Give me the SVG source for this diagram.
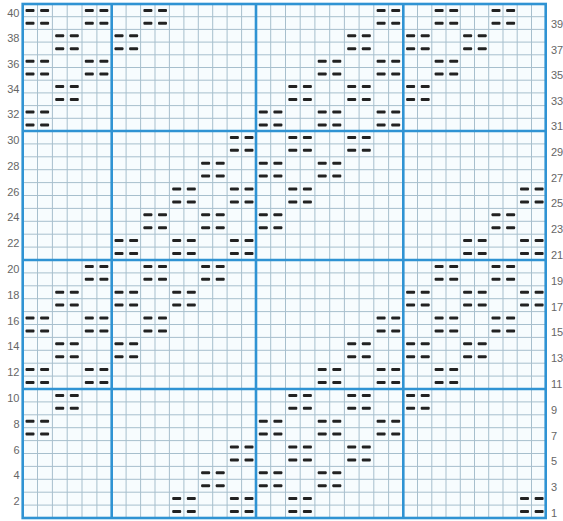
<svg xmlns="http://www.w3.org/2000/svg" xmlns:xlink="http://www.w3.org/1999/xlink" width="563" height="521" viewBox="0 0 563 521">
<style>
.minor{stroke:#a7bfcd;stroke-width:1;fill:none}
.major{stroke:#2f93d3;stroke-width:2.6;fill:none}
.lab{font-family:"Liberation Sans",Arial,sans-serif;font-size:11px;fill:#666}
.l{text-anchor:end}
.r{text-anchor:start}
.blk rect{fill:#222}
</style>
<defs>
<g id="b" class="blk">
<rect x="2.8" y="4.9" width="9" height="3" rx="1"/>
<rect x="17.4" y="4.9" width="9" height="3" rx="1"/>
<rect x="2.8" y="17.8" width="9" height="3" rx="1"/>
<rect x="17.4" y="17.8" width="9" height="3" rx="1"/>
</g>
</defs>
<rect width="563" height="521" fill="#ffffff"/>
<rect x="22.7" y="4" width="523" height="514" fill="#f7fcfe"/>
<g id="grid">
<path class="minor" d="M37.5 4V518M52.4 4V518M67.2 4V518M82 4V518M96.9 4V518M126.1 4V518M140.6 4V518M155 4V518M169.4 4V518M183.9 4V518M198.3 4V518M212.7 4V518M227.1 4V518M241.6 4V518M270.7 4V518M285.5 4V518M300.2 4V518M314.9 4V518M329.7 4V518M344.4 4V518M359.1 4V518M373.8 4V518M388.6 4V518M417.5 4V518M431.8 4V518M446 4V518M460.3 4V518M474.5 4V518M488.7 4V518M503 4V518M517.2 4V518M531.5 4V518"/>
<path class="minor" d="M22.7 16.7H545.7M22.7 29.4H545.7M22.7 42.1H545.7M22.7 54.8H545.7M22.7 67.5H545.7M22.7 80.2H545.7M22.7 92.9H545.7M22.7 105.6H545.7M22.7 118.3H545.7M22.7 143.9H545.7M22.7 156.8H545.7M22.7 169.7H545.7M22.7 182.6H545.7M22.7 195.5H545.7M22.7 208.4H545.7M22.7 221.3H545.7M22.7 234.2H545.7M22.7 247.1H545.7M22.7 272.9H545.7M22.7 285.8H545.7M22.7 298.7H545.7M22.7 311.6H545.7M22.7 324.5H545.7M22.7 337.4H545.7M22.7 350.3H545.7M22.7 363.2H545.7M22.7 376.1H545.7M22.7 401.9H545.7M22.7 414.8H545.7M22.7 427.7H545.7M22.7 440.6H545.7M22.7 453.5H545.7M22.7 466.4H545.7M22.7 479.3H545.7M22.7 492.2H545.7M22.7 505.1H545.7"/>
<path class="major" d="M111.7 4V518M256 4V518M403.3 4V518M22.7 131H545.7M22.7 260H545.7M22.7 389H545.7"/>
<rect class="major" x="22.7" y="4" width="523" height="514" stroke-width="2"/>
</g>
<g id="stitches">
<!-- R0 y=4 -->
<use xlink:href="#b" x="22.7" y="4"/><use xlink:href="#b" x="82" y="4"/><use xlink:href="#b" x="140.6" y="4"/><use xlink:href="#b" x="373.8" y="4"/><use xlink:href="#b" x="431.8" y="4"/><use xlink:href="#b" x="488.7" y="4"/>
<!-- R1 y=29.4 -->
<use xlink:href="#b" x="52.4" y="29.4"/><use xlink:href="#b" x="111.7" y="29.4"/><use xlink:href="#b" x="344.4" y="29.4"/><use xlink:href="#b" x="403.3" y="29.4"/><use xlink:href="#b" x="460.3" y="29.4"/>
<!-- R2 y=54.8 -->
<use xlink:href="#b" x="22.7" y="54.8"/><use xlink:href="#b" x="82" y="54.8"/><use xlink:href="#b" x="314.9" y="54.8"/><use xlink:href="#b" x="373.8" y="54.8"/><use xlink:href="#b" x="431.8" y="54.8"/>
<!-- R3 y=80.2 -->
<use xlink:href="#b" x="52.4" y="80.2"/><use xlink:href="#b" x="285.5" y="80.2"/><use xlink:href="#b" x="344.4" y="80.2"/><use xlink:href="#b" x="403.3" y="80.2"/>
<!-- R4 y=105.6 -->
<use xlink:href="#b" x="22.7" y="105.6"/><use xlink:href="#b" x="256" y="105.6"/><use xlink:href="#b" x="314.9" y="105.6"/><use xlink:href="#b" x="373.8" y="105.6"/>
<!-- R5 y=131 -->
<use xlink:href="#b" x="227.1" y="131"/><use xlink:href="#b" x="285.5" y="131"/><use xlink:href="#b" x="344.4" y="131"/>
<!-- R6 y=156.8 -->
<use xlink:href="#b" x="198.3" y="156.8"/><use xlink:href="#b" x="256" y="156.8"/><use xlink:href="#b" x="314.9" y="156.8"/>
<!-- R7 y=182.6 -->
<use xlink:href="#b" x="169.4" y="182.6"/><use xlink:href="#b" x="227.1" y="182.6"/><use xlink:href="#b" x="285.5" y="182.6"/><use xlink:href="#b" x="517.2" y="182.6"/>
<!-- R8 y=208.4 -->
<use xlink:href="#b" x="140.6" y="208.4"/><use xlink:href="#b" x="198.3" y="208.4"/><use xlink:href="#b" x="256" y="208.4"/><use xlink:href="#b" x="488.7" y="208.4"/>
<!-- R9 y=234.2 -->
<use xlink:href="#b" x="111.7" y="234.2"/><use xlink:href="#b" x="169.4" y="234.2"/><use xlink:href="#b" x="227.1" y="234.2"/><use xlink:href="#b" x="460.3" y="234.2"/><use xlink:href="#b" x="517.2" y="234.2"/>
<!-- R10 y=260 -->
<use xlink:href="#b" x="82" y="260"/><use xlink:href="#b" x="140.6" y="260"/><use xlink:href="#b" x="198.3" y="260"/><use xlink:href="#b" x="431.8" y="260"/><use xlink:href="#b" x="488.7" y="260"/>
<!-- R11 y=285.8 -->
<use xlink:href="#b" x="52.4" y="285.8"/><use xlink:href="#b" x="111.7" y="285.8"/><use xlink:href="#b" x="169.4" y="285.8"/><use xlink:href="#b" x="403.3" y="285.8"/><use xlink:href="#b" x="460.3" y="285.8"/><use xlink:href="#b" x="517.2" y="285.8"/>
<!-- R12 y=311.6 -->
<use xlink:href="#b" x="22.7" y="311.6"/><use xlink:href="#b" x="82" y="311.6"/><use xlink:href="#b" x="140.6" y="311.6"/><use xlink:href="#b" x="373.8" y="311.6"/><use xlink:href="#b" x="431.8" y="311.6"/><use xlink:href="#b" x="488.7" y="311.6"/>
<!-- R13 y=337.4 -->
<use xlink:href="#b" x="52.4" y="337.4"/><use xlink:href="#b" x="111.7" y="337.4"/><use xlink:href="#b" x="344.4" y="337.4"/><use xlink:href="#b" x="403.3" y="337.4"/><use xlink:href="#b" x="460.3" y="337.4"/>
<!-- R14 y=363.2 -->
<use xlink:href="#b" x="22.7" y="363.2"/><use xlink:href="#b" x="82" y="363.2"/><use xlink:href="#b" x="314.9" y="363.2"/><use xlink:href="#b" x="373.8" y="363.2"/><use xlink:href="#b" x="431.8" y="363.2"/>
<!-- R15 y=389 -->
<use xlink:href="#b" x="52.4" y="389"/><use xlink:href="#b" x="285.5" y="389"/><use xlink:href="#b" x="344.4" y="389"/><use xlink:href="#b" x="403.3" y="389"/>
<!-- R16 y=414.8 -->
<use xlink:href="#b" x="22.7" y="414.8"/><use xlink:href="#b" x="256" y="414.8"/><use xlink:href="#b" x="314.9" y="414.8"/><use xlink:href="#b" x="373.8" y="414.8"/>
<!-- R17 y=440.6 -->
<use xlink:href="#b" x="227.1" y="440.6"/><use xlink:href="#b" x="285.5" y="440.6"/><use xlink:href="#b" x="344.4" y="440.6"/>
<!-- R18 y=466.4 -->
<use xlink:href="#b" x="198.3" y="466.4"/><use xlink:href="#b" x="256" y="466.4"/><use xlink:href="#b" x="314.9" y="466.4"/>
<!-- R19 y=492.2 -->
<use xlink:href="#b" x="169.4" y="492.2"/><use xlink:href="#b" x="227.1" y="492.2"/><use xlink:href="#b" x="285.5" y="492.2"/><use xlink:href="#b" x="517.2" y="492.2"/>
</g>
<g id="labels-left" class="lab l">
<text x="19.5" y="16.7">40</text>
<text x="19.5" y="42.1">38</text>
<text x="19.5" y="67.5">36</text>
<text x="19.5" y="92.9">34</text>
<text x="19.5" y="118.3">32</text>
<text x="19.5" y="143.9">30</text>
<text x="19.5" y="169.7">28</text>
<text x="19.5" y="195.5">26</text>
<text x="19.5" y="221.3">24</text>
<text x="19.5" y="247.1">22</text>
<text x="19.5" y="272.9">20</text>
<text x="19.5" y="298.7">18</text>
<text x="19.5" y="324.5">16</text>
<text x="19.5" y="350.3">14</text>
<text x="19.5" y="376.1">12</text>
<text x="19.5" y="401.9">10</text>
<text x="19.5" y="427.7">8</text>
<text x="19.5" y="453.5">6</text>
<text x="19.5" y="479.3">4</text>
<text x="19.5" y="505.1">2</text>
</g>
<g id="labels-right" class="lab r">
<text x="551" y="28.4">39</text>
<text x="551" y="53.8">37</text>
<text x="551" y="79.2">35</text>
<text x="551" y="104.6">33</text>
<text x="551" y="130">31</text>
<text x="551" y="155.8">29</text>
<text x="551" y="181.6">27</text>
<text x="551" y="207.4">25</text>
<text x="551" y="233.2">23</text>
<text x="551" y="259">21</text>
<text x="551" y="284.8">19</text>
<text x="551" y="310.6">17</text>
<text x="551" y="336.4">15</text>
<text x="551" y="362.2">13</text>
<text x="551" y="388">11</text>
<text x="551" y="413.8">9</text>
<text x="551" y="439.6">7</text>
<text x="551" y="465.4">5</text>
<text x="551" y="491.2">3</text>
<text x="551" y="517">1</text>
</g>
</svg>
